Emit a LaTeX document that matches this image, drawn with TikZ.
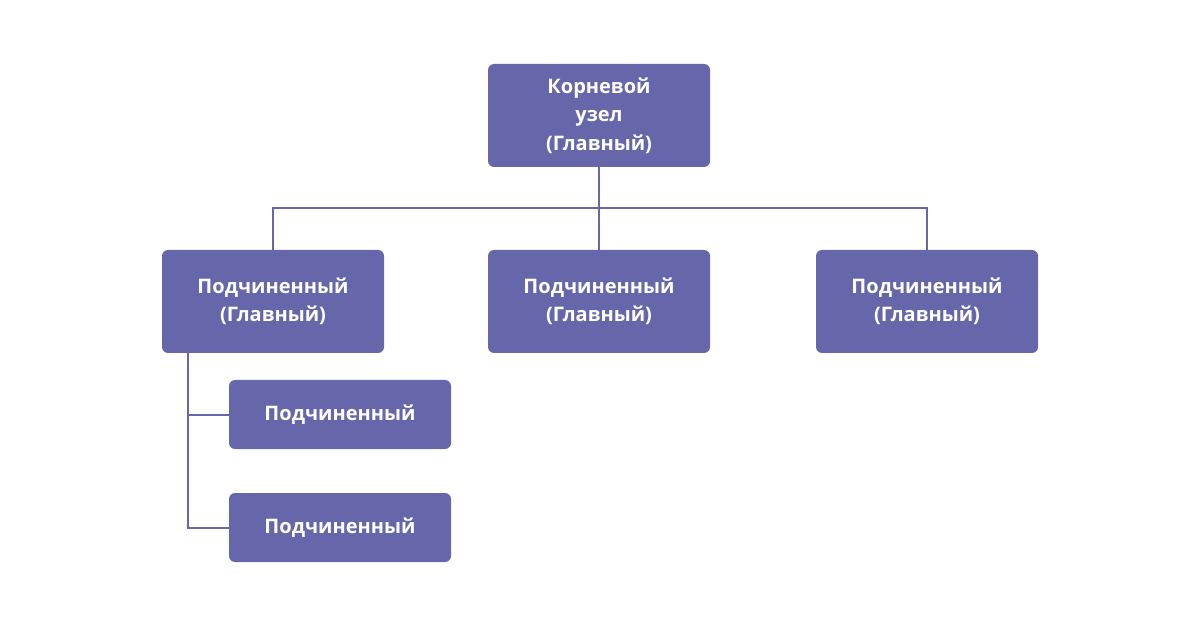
\documentclass[tikz,border=0pt]{standalone}
\usepackage{fontspec}
\setmainfont{Open Sans}
\definecolor{boxblue}{HTML}{6667AA}

\begin{document}
\begin{tikzpicture}[x=1pt,y=-1pt,
  box/.style={rectangle,rounded corners=6pt,fill=boxblue,text=white,inner sep=0pt,
    minimum width=222pt,minimum height=103pt,align=center,
    font=\fontsize{20}{28.5}\selectfont\bfseries},
  subbox/.style={box,minimum height=69pt},
  link/.style={draw=boxblue,line width=2pt}]
\useasboundingbox (0,0) rectangle (1200,628);
% root and the three children
\node[box] (root) at (599,115.5) {Корневой\\узел\\(Главный)};
\node[box] (c1) at (273,301.5) {Подчиненный\\(Главный)};
\node[box] (c2) at (599,301.5) {Подчиненный\\(Главный)};
\node[box] (c3) at (927,301.5) {Подчиненный\\(Главный)};
% children of the first child
\node[subbox] (s1) at (340,414.5) {Подчиненный};
\node[subbox] (s2) at (340,527.5) {Подчиненный};
% connectors
\coordinate (bus) at (599,208);
\coordinate (trunk) at (188,353);
\draw[link] (root.south) -- (bus);
\draw[link] (c1.north) |- (bus) -| (c3.north);
\draw[link] (bus) -- (c2.north);
\draw[link] (trunk) |- (s2.west);
\draw[link] (trunk |- s1.west) -- (s1.west);
\end{tikzpicture}
\end{document}
